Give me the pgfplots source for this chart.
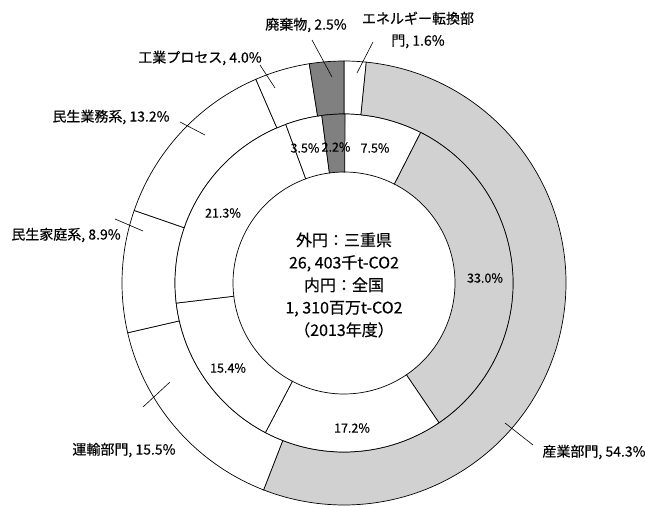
\documentclass[border=0pt]{standalone}
\usepackage{pgfplots}
\pgfplotsset{compat=1.18}
\usepackage{pgfplotstable}
\usepackage{fontspec}
\setmainfont{Noto Sans CJK JP}[FakeBold=0.4]

% shares in percent, clockwise from 12 o'clock
\pgfplotstableread{
idx outer inner
0 1.6 7.5
1 54.3 33.0
2 15.5 17.2
3 8.9 15.4
4 13.2 21.3
5 4.0 3.5
6 2.5 2.2
}\shares

\begin{document}
\begin{tikzpicture}
\begin{axis}[scale only axis, width=645pt, height=506pt,
  xmin=0, xmax=645, ymin=0, ymax=506, y dir=reverse,
  hide axis, clip=false]
\addplot[draw=none] coordinates {(0,0) (645,506)};
\coordinate (BL) at (axis cs:0,506);
\coordinate (TR) at (axis cs:645,0);
\pgfplotsextra{%
  \coordinate (C) at (axis cs:344,283);
  \gdef\cumO{0}\gdef\cumI{0}%
  \foreach \i in {0,...,6}{%
    \pgfplotstablegetelem{\i}{outer}\of\shares \let\vO\pgfplotsretval
    \pgfplotstablegetelem{\i}{inner}\of\shares \let\vI\pgfplotsretval
    \pgfmathsetmacro\aA{90-3.6*\cumO}%
    \pgfmathsetmacro\aB{90-3.6*(\cumO+\vO)}%
    \pgfmathsetmacro\bA{90-3.6*\cumI}%
    \pgfmathsetmacro\bB{90-3.6*(\cumI+\vI)}%
    \pgfmathsetmacro\tmpO{\cumO+\vO}\global\let\cumO\tmpO
    \pgfmathsetmacro\tmpI{\cumI+\vI}\global\let\cumI\tmpI
    \edef\col{\ifcase\i white\or black!18\or white\or white\or white\or white\or black!50\fi}%
    \filldraw[fill=\col, draw=black, line width=0.7pt]
      ([shift={(\aA:222pt)}]C) arc[start angle=\aA, end angle=\aB, radius=222pt]
      -- ([shift={(\aB:169pt)}]C) arc[start angle=\aB, end angle=\aA, radius=169pt] -- cycle;
    \filldraw[fill=\col, draw=black, line width=0.7pt]
      ([shift={(\bA:169pt)}]C) arc[start angle=\bA, end angle=\bB, radius=169pt]
      -- ([shift={(\bB:111pt)}]C) arc[start angle=\bB, end angle=\bA, radius=111pt] -- cycle;
  }%
}
% leader lines
\draw[line width=0.6pt] (axis cs:312,40) -- (axis cs:332,77);
\draw[line width=0.6pt] (axis cs:373,42) -- (axis cs:357,73);
\draw[line width=0.6pt] (axis cs:260,65) -- (axis cs:275,88);
\draw[line width=0.6pt] (axis cs:180,122) -- (axis cs:205,135);
\draw[line width=0.6pt] (axis cs:115,219) -- (axis cs:143,231);
\draw[line width=0.6pt] (axis cs:143,407) -- (axis cs:170,382);
\draw[line width=0.6pt] (axis cs:505,423) -- (axis cs:533,445);
% outer labels
\begin{scope}[every node/.style={font=\fontsize{14}{17}\selectfont, inner sep=0pt}]
\node at (axis cs:306,25) {廃棄物, 2.5\%};
\node[align=center] at (axis cs:418,30) {エネルギー転換部\\[5pt]門, 1.6\%};
\node at (axis cs:200,58) {工業プロセス, 4.0\%};
\node at (axis cs:111,117) {民生業務系, 13.2\%};
\node at (axis cs:66,235) {民生家庭系, 8.9\%};
\node at (axis cs:124,450) {運輸部門, 15.5\%};
\node at (axis cs:594,452) {産業部門, 54.3\%};
\end{scope}
% inner labels
\begin{scope}[every node/.style={font=\fontsize{12.5}{14}\selectfont, inner sep=0pt}]
\node at (axis cs:375,148) {7.5\%};
\node at (axis cs:305,148) {3.5\%};
\node at (axis cs:336,147) {2.2\%};
\node at (axis cs:223,213) {21.3\%};
\node at (axis cs:485,278) {33.0\%};
\node at (axis cs:228,368) {15.4\%};
\node at (axis cs:352,428) {17.2\%};
\end{scope}
% centre text
\node[font=\fontsize{16}{22.5}\selectfont, align=center, inner sep=0pt] at (axis cs:344,285)
  {外円：三重県\\26, 403千t-CO2\\内円：全国\\1, 310百万t-CO2\\（2013年度）};
\end{axis}
\pgfresetboundingbox
\path[use as bounding box] (BL) rectangle (TR);
\end{tikzpicture}
\end{document}
